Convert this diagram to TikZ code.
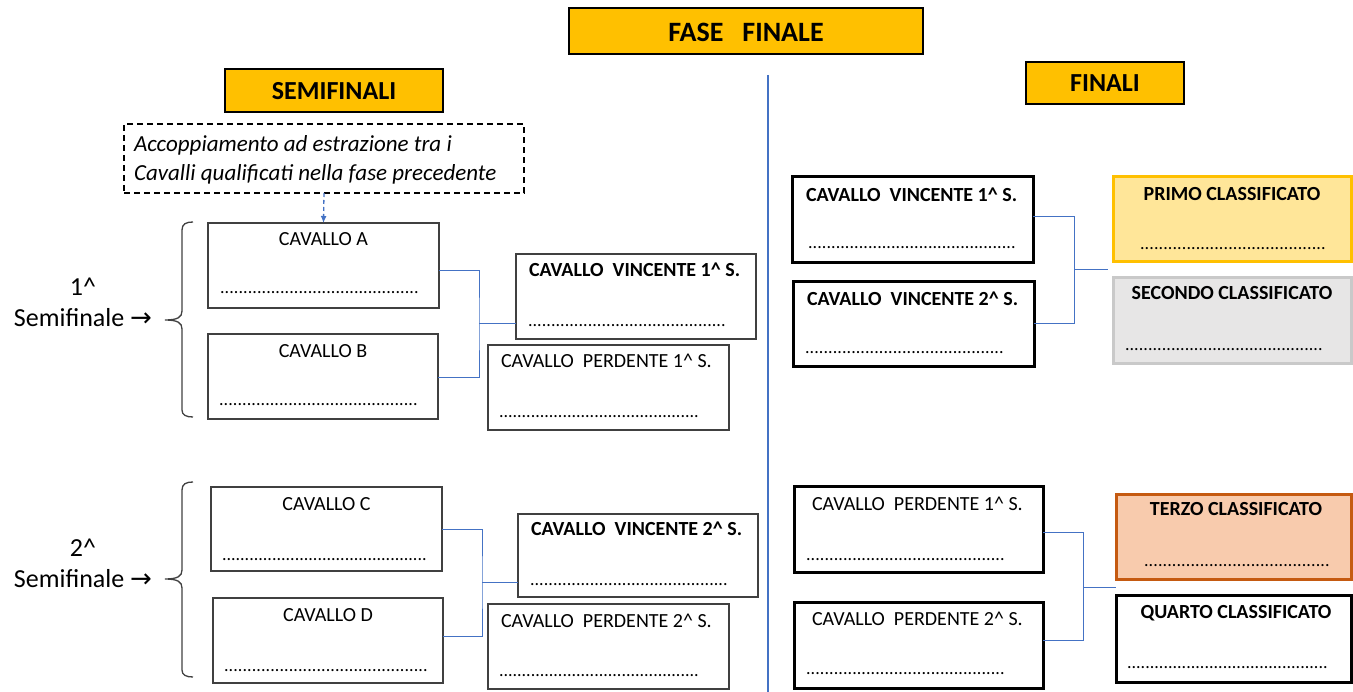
\documentclass[tikz,border=0pt]{standalone}
\usepackage{fontspec}
\setmainfont{Carlito}
\newfontfamily\arrowfont{DejaVu Sans}
\usetikzlibrary{arrows.meta}
\definecolor{gold}{HTML}{FFC000}
\definecolor{lineblue}{HTML}{4472C4}
\definecolor{pale}{HTML}{FFE699}
\definecolor{silver}{HTML}{E7E6E6}
\definecolor{silverline}{HTML}{C9C9C9}
\definecolor{peach}{HTML}{F8CBAD}
\definecolor{rust}{HTML}{C55A11}
\definecolor{thinline}{HTML}{404040}
\newcommand\fs[1]{\fontsize{#1}{#1}\selectfont}
\newcommand\dotrow[1]{\hbox to #1pt{\xleaders\hbox{.}\hfill}}
\newcommand\bx[6]{\node[#2, minimum width={#5-#3}, minimum height={#6-#4}] (#1) at ({(#3+#5)/2},{(#4+#6)/2}) {};}
\tikzset{
  thinbox/.style={draw=thinline, line width=1.2pt, inner sep=0pt, outer sep=0pt},
  thickbox/.style={draw=black, line width=3pt, inner sep=0pt, outer sep=0pt},
  goldbox/.style={draw=black, fill=gold, line width=1.5pt, inner sep=0pt, outer sep=0pt},
  firstbox/.style={draw=gold, fill=pale, line width=3pt, inner sep=0pt, outer sep=0pt},
  secondbox/.style={draw=silverline, fill=silver, line width=3pt, inner sep=0pt, outer sep=0pt},
  thirdbox/.style={draw=rust, fill=peach, line width=3pt, inner sep=0pt, outer sep=0pt},
  dashbox/.style={draw=black, line width=1.5pt, dash pattern=on 6pt off 4pt, inner sep=0pt, outer sep=0pt},
  conn/.style={draw=lineblue, line width=1pt},
  txt/.style={inner sep=0pt, outer sep=0pt, anchor=base west, font=\fs{20}},
  ctxt/.style={inner sep=0pt, outer sep=0pt, anchor=base, font=\fs{20}},
  btxt/.style={txt, font=\fs{20}\bfseries},
  cbtxt/.style={ctxt, font=\fs{20}\bfseries},
  dots/.style={inner sep=0pt, outer sep=0pt, anchor=base west, font=\fs{18}},
  bracecurve/.style={draw=thinline, line width=1.3pt},
}
\begin{document}
\begin{tikzpicture}[x=1pt,y=-1pt]
\useasboundingbox (0,0) rectangle (1353,692);

% headers
\bx{title}{goldbox}{569}{8}{923}{54}
\node[cbtxt, font=\fs{28}\bfseries] (titletxt) at (746,42) {FASE~~ FINALE};
\bx{semi}{goldbox}{225}{69}{443}{112}
\node[cbtxt, font=\fs{26}\bfseries] (semitxt) at (334,100) {SEMIFINALI};
\bx{fin}{goldbox}{1026}{62}{1184}{104}
\node[cbtxt, font=\fs{26}\bfseries] (fintxt) at (1105,92) {FINALI};

% dashed note
\bx{note}{dashbox}{124}{124}{524}{193}
\node[txt, font=\fs{23}\itshape] (note1) at (134,152) {Accoppiamento ad estrazione tra i};
\node[txt, font=\fs{23}\itshape] (note2) at (134,181) {Cavalli qualificati nella fase precedente};

% divider
\coordinate (divtop) at (768,75);
\coordinate (divbot) at (768,692);
\draw[lineblue, line width=2pt] (divtop) -- (divbot);

% semifinal boxes
\bx{A}{thinbox}{208}{223}{439}{308}
\node[ctxt] (Atxt) at (323.5,246) {CAVALLO A};
\node[dots] (Adots) at (220,294) {\dotrow{199}};
\bx{B}{thinbox}{208}{334}{438}{419}
\node[ctxt] (Btxt) at (323,358) {CAVALLO B};
\node[dots] (Bdots) at (219,406) {\dotrow{199}};
\bx{C}{thinbox}{211}{487}{442}{571}
\node[ctxt] (Ctxt) at (326.5,511) {CAVALLO C};
\node[dots] (Cdots) at (222,560) {\dotrow{205}};
\bx{D}{thinbox}{213}{598}{443}{683}
\node[ctxt] (Dtxt) at (328,621) {CAVALLO D};
\node[dots] (Ddots) at (224,671) {\dotrow{204}};

\bx{V1}{thinbox}{516}{254}{756}{339}
\node[btxt] (V1txt) at (529,277) {CAVALLO~ VINCENTE 1\^{} S.};
\node[dots] (V1dots) at (528,327) {\dotrow{198}};
\bx{P1}{thinbox}{488}{345}{729}{430}
\node[txt] (P1txt) at (501,368) {CAVALLO~ PERDENTE 1\^{} S.};
\node[dots] (P1dots) at (499,418) {\dotrow{200}};
\bx{V2}{thinbox}{518}{514}{758}{597}
\node[btxt] (V2txt) at (531,536) {CAVALLO~ VINCENTE 2\^{} S.};
\node[dots] (V2dots) at (530,585) {\dotrow{198}};
\bx{P2}{thinbox}{488}{604}{729}{689}
\node[txt] (P2txt) at (501,627) {CAVALLO~ PERDENTE 2\^{} S.};
\node[dots] (P2dots) at (499,676) {\dotrow{200}};

% left connectors
\coordinate (j1) at (479,324);
\draw[conn] (A.east |- 0,271) -| (j1) |- (B.east |- 0,378);
\draw[conn] (j1) -- (V1.west |- j1);
\coordinate (j2) at (482,582);
\draw[conn] (C.east |- 0,530) -| (j2) |- (D.east |- 0,636);
\draw[conn] (j2) -- (V2.west |- j2);

% dashed arrow
\draw[lineblue, line width=1.3pt, dash pattern=on 4pt off 3pt, -{Latex[length=7pt,width=6pt]}] (note.south) -- (A.north);

% braces
\draw[bracecurve] (193,222) .. controls (186,222) and (182,224) .. (182,230) -- (182,311)
  .. controls (182,317) and (178,320) .. (165,320)
  .. controls (178,320) and (182,323) .. (182,329) -- (182,410)
  .. controls (182,415) and (186,417) .. (193,417);
\draw[bracecurve] (193,482) .. controls (186,482) and (182,484) .. (182,490) -- (182,570)
  .. controls (182,576) and (178,579) .. (165,579)
  .. controls (178,579) and (182,582) .. (182,588) -- (182,670)
  .. controls (182,675) and (186,677) .. (193,677);
\node[ctxt, font=\fs{26}] (s1a) at (83,296) {1\^{}};
\node[ctxt, font=\fs{26}] (s1b) at (83,327) {Semifinale {\arrowfont →}};
\node[ctxt, font=\fs{26}] (s2a) at (83,556) {2\^{}};
\node[ctxt, font=\fs{26}] (s2b) at (83,587) {Semifinale {\arrowfont →}};

% finals
\bx{VF1}{thickbox}{792}{177}{1033}{263}
\node[btxt] (VF1txt) at (806,202) {CAVALLO~ VINCENTE 1\^{} S.};
\node[dots] (VF1dots) at (808,249) {\dotrow{208}};
\bx{VF2}{thickbox}{793}{282}{1034}{367}
\node[btxt] (VF2txt) at (807,306) {CAVALLO~ VINCENTE 2\^{} S.};
\node[dots] (VF2dots) at (805,354) {\dotrow{199}};
\bx{first}{firstbox}{1113}{177}{1351.5}{262}
\node[cbtxt] (firsttxt) at (1232,201) {PRIMO CLASSIFICATO};
\node[dots] (firstdots) at (1140,250) {\dotrow{186}};
\bx{second}{secondbox}{1113}{278}{1351.5}{364}
\node[cbtxt] (secondtxt) at (1232,300) {SECONDO CLASSIFICATO};
\node[dots] (seconddots) at (1125,351) {\dotrow{198}};

\coordinate (j3) at (1074,270);
\coordinate (e3) at (1108,270);
\draw[conn] (VF1.east |- 0,217) -| (j3) |- (VF2.east |- 0,324);
\draw[conn] (j3) -- (e3);

\bx{PP1}{thickbox}{794}{487}{1043}{572}
\node[txt] (PP1txt) at (812,511) {CAVALLO~ PERDENTE 1\^{} S.};
\node[dots] (PP1dots) at (806,560) {\dotrow{199}};
\bx{PP2}{thickbox}{794}{602}{1043}{688}
\node[txt] (PP2txt) at (812,625) {CAVALLO~ PERDENTE 2\^{} S.};
\node[dots] (PP2dots) at (806,674) {\dotrow{199}};
\bx{third}{thirdbox}{1116}{495}{1351.5}{579}
\node[cbtxt] (thirdtxt) at (1236,516) {TERZO CLASSIFICATO};
\node[dots] (thirddots) at (1144,566) {\dotrow{186}};
\bx{fourth}{thickbox}{1116}{595}{1351.5}{682}
\node[cbtxt] (fourthtxt) at (1236,618) {QUARTO CLASSIFICATO};
\node[dots] (fourthdots) at (1127,668) {\dotrow{201}};

\coordinate (j4) at (1083,587);
\draw[conn] (PP1.east |- 0,533) -| (j4) |- (PP2.east |- 0,640);
\draw[conn] (j4) -- (third.west |- j4);
\end{tikzpicture}
\end{document}
